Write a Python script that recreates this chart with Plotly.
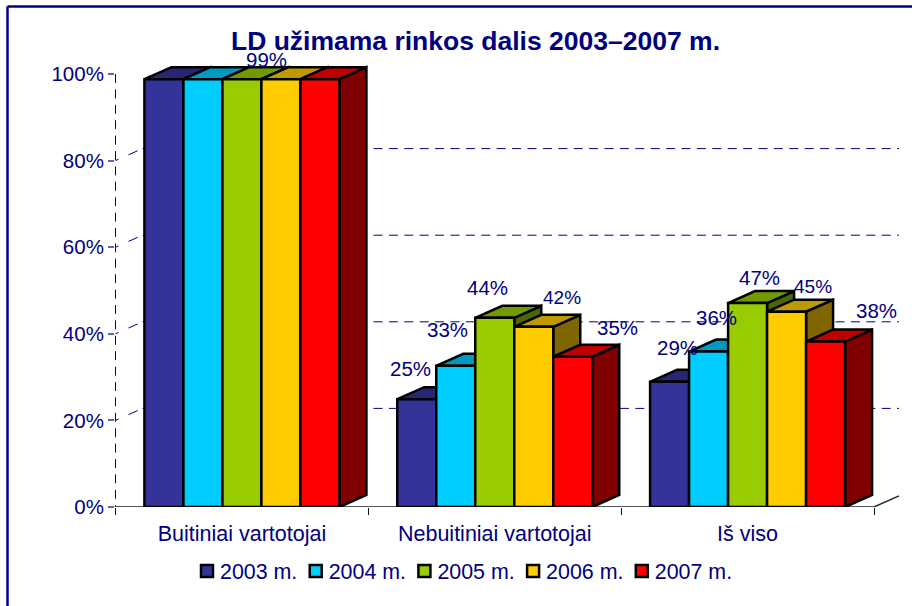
import plotly.graph_objects as go

categories = ["Buitiniai vartotojai", "Nebuitiniai vartotojai", "Iš viso"]
series_names = ["2003 m.", "2004 m.", "2005 m.", "2006 m.", "2007 m."]
values_2003 = [98.8, 24.9, 28.9]
values_2004 = [98.8, 32.6, 35.9]
values_2005 = [98.8, 43.7, 47.1]
values_2006 = [98.8, 41.6, 45.1]
values_2007 = [98.8, 34.7, 38.2]
labels_2003 = [None, "25%", "29%"]
labels_2004 = [None, "33%", "36%"]
labels_2005 = ["99%", "44%", "47%"]
labels_2006 = [None, "42%", "45%"]
labels_2007 = [None, "35%", "38%"]
y_ticks = [0, 20, 40, 60, 80, 100]
y_tick_labels = ["0%", "20%", "40%", "60%", "80%", "100%"]
grid_values = [20, 40, 60, 80]

all_values = [values_2003, values_2004, values_2005, values_2006, values_2007]
all_labels = [labels_2003, labels_2004, labels_2005, labels_2006, labels_2007]

# Styling and layout
W, H = 912, 606
FRONT = ["#333399", "#00CCFF", "#99CC00", "#FFCC00", "#FF0000"]
TOP = ["#262673", "#0099BF", "#739900", "#BF9900", "#BF0000"]
SIDE = ["#1A1A4D", "#006680", "#4D6600", "#806600", "#800000"]
NAVY = "#000080"
FONT = "Liberation Sans"
L, R, T, B = 115, 0, 20, 99
PX_X = (874 - 115.5) / 3
PX_Y = 4.33
X_RANGE = [-0.5 - 0.5 / PX_X, -0.5 + (W - L - 0.5) / PX_X]
Y_RANGE = [0, (H - T - B) / PX_Y]
DX = 27 / PX_X   # depth of the 3-D box in data units
DY = 12 / PX_Y
WALL_DX = 25 / PX_X
BAR_W = 39 / PX_X
EDGE = 2.5
# label offsets from the top-centre of each bar, in px
LABEL_SHIFT = {
    (2, 0): (25, 20),
    (0, 1): (-6.5, 31), (1, 1): (-8, 36), (2, 1): (-7.5, 30), (3, 1): (28.5, 29), (4, 1): (44.5, 29),
    (0, 2): (7.5, 34), (1, 2): (7.5, 34), (2, 2): (11.5, 26), (3, 2): (26.5, 25), (4, 2): (50.5, 31),
}

cat_x = list(range(len(categories)))
n = len(series_names)


def px(x):
    return (x - L) / (W - L - R)


def py(y):
    return 1 - (y - T) / (H - T - B)


fig = go.Figure()


def guide(x, y, dash, color=NAVY, width=1):
    fig.add_trace(go.Scatter(x=x, y=y, mode="lines", showlegend=False, hoverinfo="skip", zorder=0,
                             line=dict(color=color, width=width, dash=dash)))


# back-wall gridlines
hx, hy, dx_, dy_ = [], [], [], []
for v in grid_values:
    hx += [-0.5 + DX, 2.5 + WALL_DX, None]
    hy += [v + DY, v + DY, None]
    dx_ += [-0.5, -0.5 + DX, None]
    dy_ += [v, v + DY, None]
guide(hx, hy, "9px,6.4px")
# side-wall gridlines
guide(dx_, dy_, "3.3px,10.9px,10px,100px")
# dashed value axis
guide([-0.5, -0.5], [100, 0], "9px,6.4px")
# baseline and floor edge
guide([-0.5, 2.5, 2.5 + WALL_DX], [0, 0, DY * 0.92], "solid", "#222222", 1.4)

annotations = []
for i, name in enumerate(series_names):
    vals = all_values[i]
    offs = -BAR_W * n / 2 + i * BAR_W
    tx, ty, sx, sy = [], [], [], []
    for c, v in zip(cat_x, vals):
        x0, x1 = c + offs, c + offs + BAR_W
        tx += [x0, x0 + DX, x1 + DX, x1, x0, None]
        ty += [v, v + DY, v + DY, v, v, None]
        sx += [x1, x1 + DX, x1 + DX, x1, x1, None]
        sy += [v, v + DY, DY, 0, v, None]
        lab = all_labels[i][c]
        if lab:
            sh = LABEL_SHIFT[(i, c)]
            annotations.append(dict(x=(x0 + x1) / 2, y=v, text=lab, showarrow=False, xanchor="center",
                                    yanchor="middle", xshift=sh[0], yshift=sh[1],
                                    font=dict(family=FONT, size=19 if i == 3 else 20.5, color=NAVY)))
    fig.add_trace(go.Scatter(x=sx, y=sy, mode="lines", fill="toself", fillcolor=SIDE[i], showlegend=False,
                             hoverinfo="skip", zorder=2 * i + 1, line=dict(color="black", width=EDGE)))
    fig.add_trace(go.Scatter(x=tx, y=ty, mode="lines", fill="toself", fillcolor=TOP[i], showlegend=False,
                             hoverinfo="skip", zorder=2 * i + 1, line=dict(color="black", width=EDGE)))
    fig.add_trace(go.Bar(x=cat_x, y=vals, name=name, width=BAR_W, offset=offs, zorder=2 * i + 2,
                         marker=dict(color=FRONT[i], line=dict(color="black", width=EDGE))))

frame = dict(type="line", xref="paper", yref="paper", line=dict(color="#00008B", width=2.5))
fig.update_layout(
    width=W, height=H, autosize=False, barmode="overlay",
    paper_bgcolor="white", plot_bgcolor="white",
    margin=dict(l=L, r=R, t=T, b=B, pad=0),
    font=dict(family=FONT, color=NAVY, size=20),
    title=dict(text="<b>LD užimama rinkos dalis 2003–2007 m.</b>", x=475.5 / W, xanchor="center",
               y=1 - 41 / H, yanchor="middle", font=dict(family=FONT, size=26.5, color=NAVY)),
    xaxis=dict(range=X_RANGE, tickmode="array", tickvals=cat_x, ticktext=categories, showgrid=False,
               zeroline=False, showline=False, ticks="", ticklabelstandoff=11,
               tickfont=dict(family=FONT, size=21.5, color=NAVY),
               minor=dict(tickmode="array", tickvals=[-0.5, 0.5, 1.5, 2.5], ticks="outside", ticklen=7,
                          tickwidth=1, tickcolor="#111111", showgrid=False)),
    yaxis=dict(range=Y_RANGE, tickmode="array", tickvals=y_ticks, ticktext=y_tick_labels, showgrid=False,
               zeroline=False, showline=False, ticks="outside", ticklen=6, tickwidth=1.5, tickcolor="#6666AA",
               tickfont=dict(family=FONT, size=20.5, color=NAVY)),
    legend=dict(orientation="h", x=px(187), xanchor="left", y=py(571), yanchor="middle",
                entrywidthmode="pixels", entrywidth=63.7, traceorder="normal",
                font=dict(family=FONT, size=21.4, color=NAVY), bgcolor="rgba(0,0,0,0)"),
    annotations=annotations,
    shapes=[dict(frame, x0=px(7.5), x1=px(7.5), y0=py(6.5), y1=py(H)),
            dict(frame, x0=px(7.5), x1=px(W), y0=py(6.5), y1=py(6.5))],
)

# body margin off; legend text sits closer to its swatch than plotly's fixed gap
post = """
document.body.style.margin='0';
document.querySelectorAll('.legendtext').forEach(function(t){
  t.setAttribute('x', parseFloat(t.getAttribute('x')) - 7);
});
"""
fig.write_html("out.html", post_script=post, config={"displayModeBar": False})
